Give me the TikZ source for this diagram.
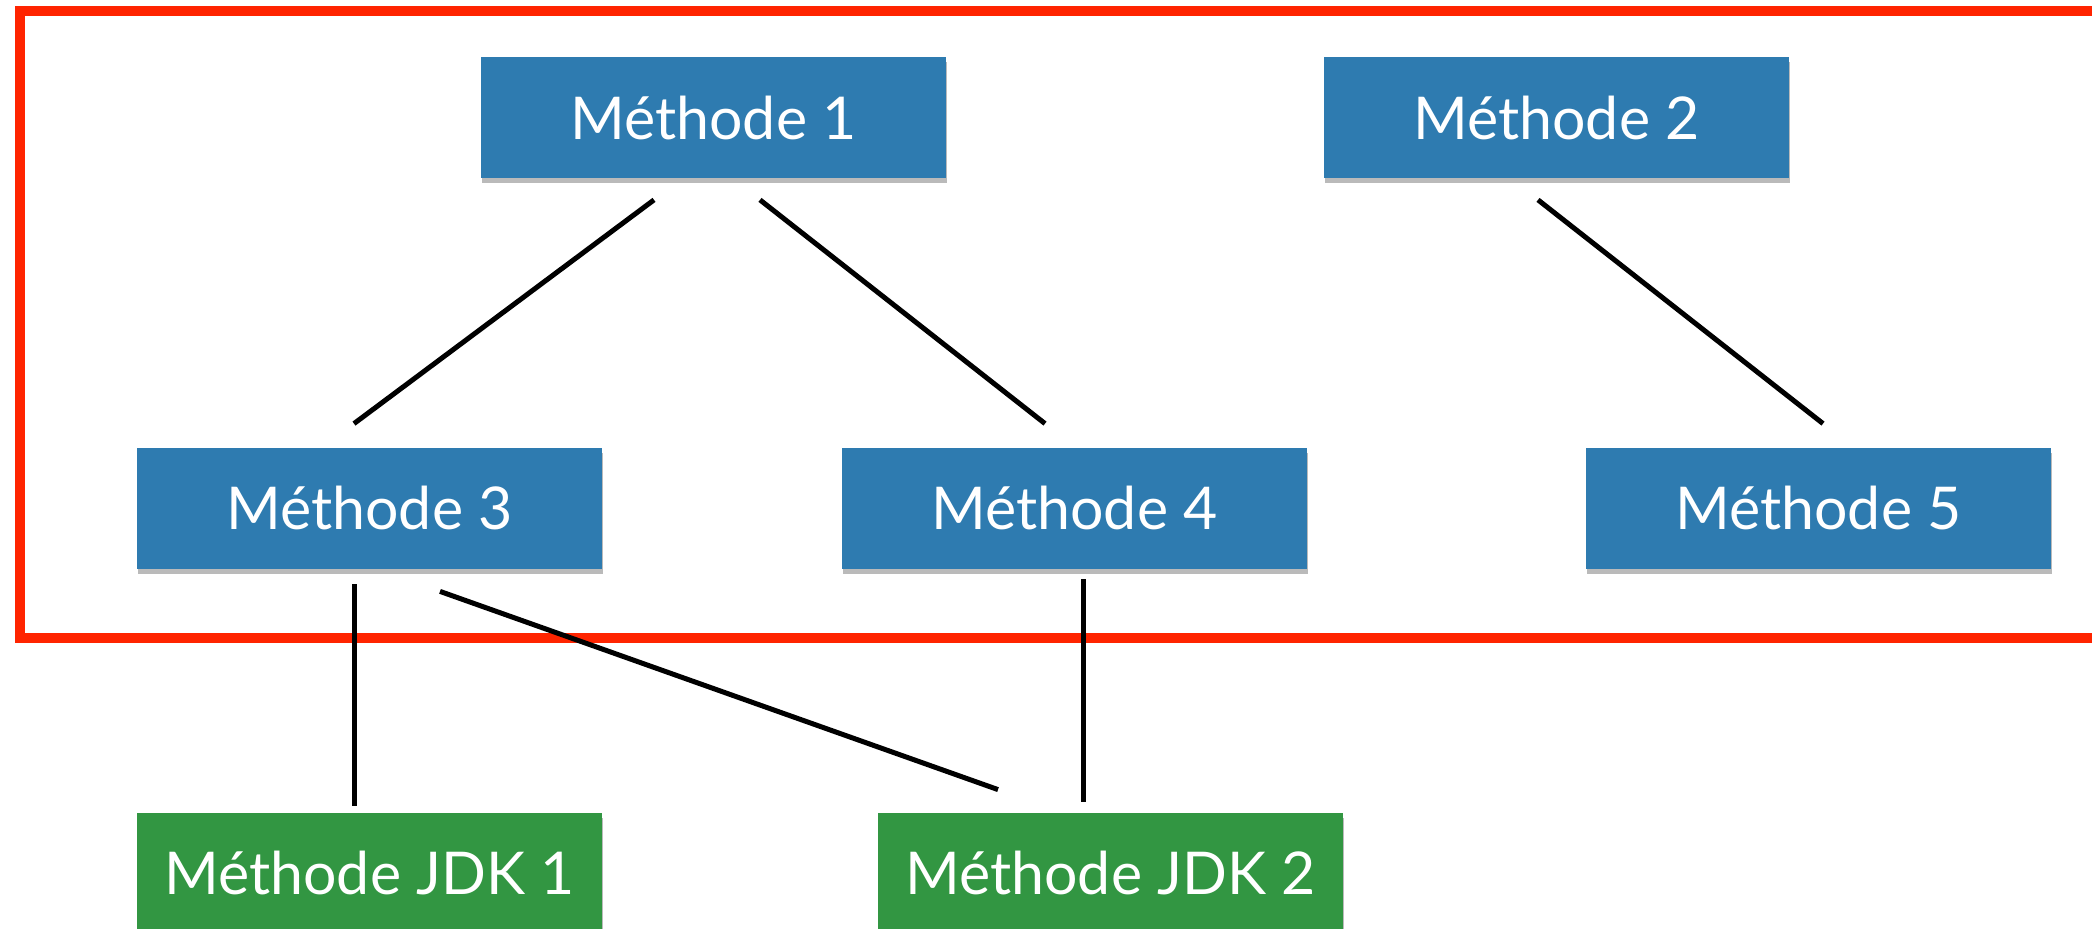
\documentclass[tikz,border=0pt]{standalone}
\usepackage{fontspec}
\setmainfont{Lato}
\usetikzlibrary{shadows}
\definecolor{methblue}{RGB}{46,123,176}
\definecolor{jdkgreen}{RGB}{50,150,66}
\definecolor{framered}{RGB}{255,36,0}
\tikzset{
  meth/.style={fill=methblue, text=white, minimum width=232.5pt, minimum height=60.5pt,
    inner sep=0pt, font=\fontsize{29.5}{34}\selectfont,
    drop shadow={shadow xshift=0.6pt, shadow yshift=-2.4pt, opacity=0.45, fill=black!60}},
  jdk/.style={meth, fill=jdkgreen},
  link/.style={line width=2.5pt, black},
}
\begin{document}
\begin{tikzpicture}[x=0.5pt, y=-0.5pt]
  \useasboundingbox (0,0) rectangle (2092,929);
  \clip (0,0) rectangle (2092,929);
  % frame around the application methods
  \draw[framered, line width=5pt] (20,11) rectangle (2140,638);
  % methods
  \node[meth] (m1) at (713.5,118) {Méthode 1};
  \node[meth] (m2) at (1556.5,118) {Méthode 2};
  \node[meth] (m3) at (369.5,508.5) {Méthode 3};
  \node[meth] (m4) at (1074.5,508.5) {Méthode 4};
  \node[meth] (m5) at (1818.5,508.5) {Méthode 5};
  \node[jdk] (j1) at (369.5,873.5) {Méthode JDK 1};
  \node[jdk] (j2) at (1110.5,873.5) {Méthode JDK 2};
  % calls
  \draw[link] ([xshift=-29.75pt,yshift=-10.5pt]m1.south) -- ([xshift=-7.75pt,yshift=12pt]m3.north);
  \draw[link] ([xshift=23.25pt,yshift=-10.5pt]m1.south) -- ([xshift=-14.75pt,yshift=12pt]m4.north);
  \draw[link] ([xshift=-9.25pt,yshift=-10.5pt]m2.south) -- ([xshift=2.25pt,yshift=12pt]m5.north);
  \draw[link] ([xshift=-7.75pt,yshift=-7.5pt]m3.south) -- ([xshift=-7.75pt,yshift=3.5pt]j1.north);
  \draw[link] ([xshift=35.25pt,yshift=-11pt]m3.south) -- ([xshift=-56.25pt,yshift=11.5pt]j2.north);
  \draw[link] ([xshift=4.25pt,yshift=-5pt]m4.south) -- ([xshift=-13.75pt,yshift=5.5pt]j2.north);
\end{tikzpicture}
\end{document}
